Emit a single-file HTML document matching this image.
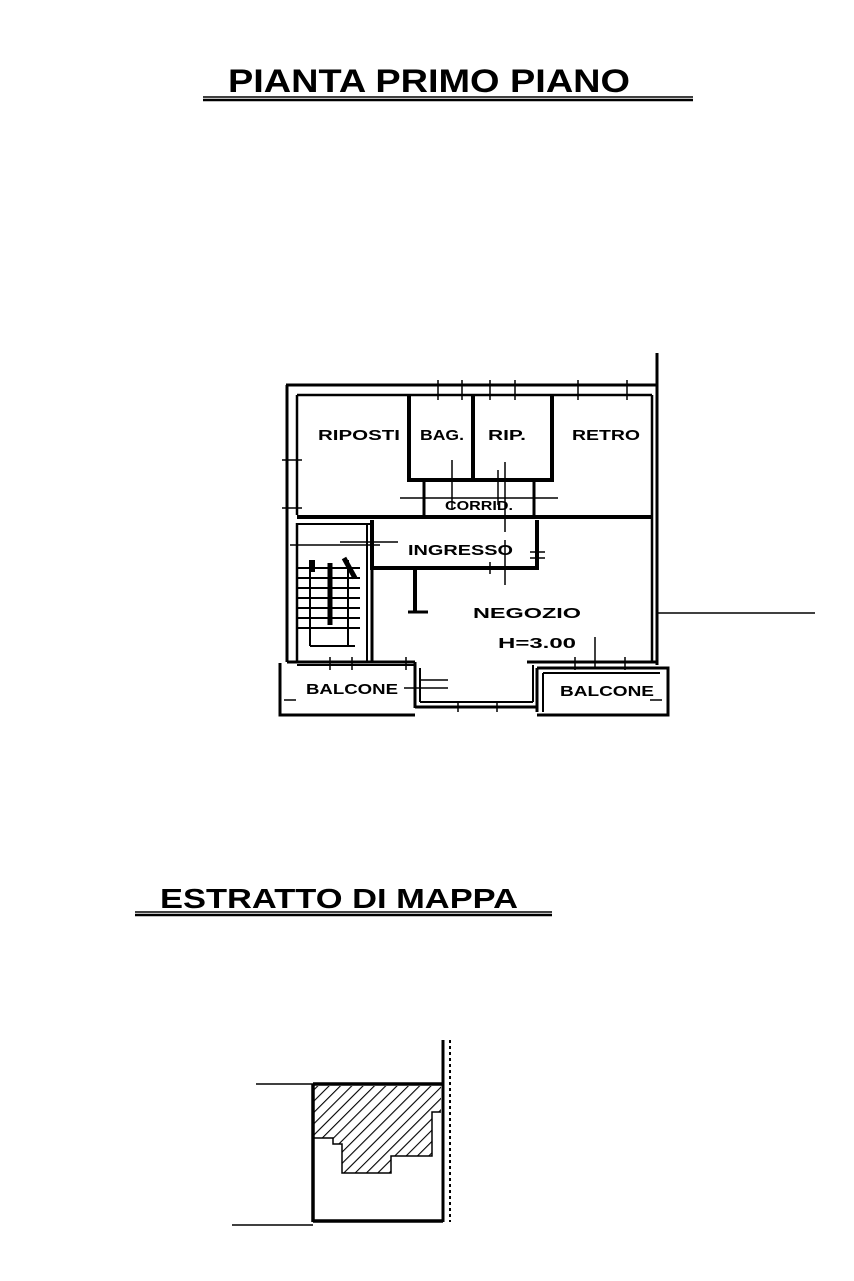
<!DOCTYPE html>
<html><head><meta charset="utf-8"><style>
html,body{margin:0;padding:0;background:#fff;}
svg{display:block;}
text{font-family:"Liberation Sans",sans-serif;font-weight:bold;fill:#000;}
</style></head><body>
<svg width="854" height="1281" viewBox="0 0 854 1281" xmlns="http://www.w3.org/2000/svg">
<defs>
<pattern id="h" patternUnits="userSpaceOnUse" width="8" height="8" patternTransform="rotate(45)">
<line x1="0" y1="0" x2="0" y2="8" stroke="#000" stroke-width="2.2"/>
</pattern>
</defs>
<text x="228" y="92" font-size="32" textLength="402" lengthAdjust="spacingAndGlyphs">PIANTA  PRIMO  PIANO</text>
<line x1="203" y1="97" x2="693" y2="97" stroke="#000" stroke-width="1.5"/>
<line x1="203" y1="100" x2="693" y2="100" stroke="#000" stroke-width="2.5"/>

<g stroke="#000" fill="none">
<line x1="286" y1="385" x2="657" y2="385" stroke-width="3"/>
<line x1="297" y1="395" x2="652" y2="395" stroke-width="2.5"/>
<line x1="657" y1="353" x2="657" y2="665" stroke-width="3"/>
<line x1="652" y1="395" x2="652" y2="662" stroke-width="2.5"/>
<line x1="287" y1="385" x2="287" y2="662" stroke-width="3"/>
<line x1="297" y1="395" x2="297" y2="515" stroke-width="2.5"/>
<line x1="297" y1="523" x2="297" y2="662" stroke-width="2.5"/>
<path d="M409 395 V480 H552 V395" stroke-width="4"/>
<line x1="473" y1="395" x2="473" y2="480" stroke-width="4"/>
<line x1="297" y1="517" x2="652" y2="517" stroke-width="4"/>
<line x1="424" y1="482" x2="424" y2="515" stroke-width="3"/>
<line x1="534" y1="482" x2="534" y2="515" stroke-width="3"/>
<path d="M372 520 V568 H537 V520" stroke-width="4"/>
<line x1="372" y1="520" x2="372" y2="662" stroke-width="3"/>
<line x1="415" y1="568" x2="415" y2="612" stroke-width="4"/>
<line x1="408" y1="612" x2="428" y2="612" stroke-width="3"/>
<line x1="297" y1="524" x2="370" y2="524" stroke-width="2"/>
<line x1="367" y1="524" x2="367" y2="662" stroke-width="2"/>
<g stroke-width="2">
<line x1="297" y1="568" x2="360" y2="568"/><line x1="297" y1="578" x2="360" y2="578"/>
<line x1="297" y1="588" x2="360" y2="588"/><line x1="297" y1="598" x2="360" y2="598"/>
<line x1="297" y1="608" x2="360" y2="608"/><line x1="297" y1="618" x2="360" y2="618"/>
<line x1="297" y1="628" x2="360" y2="628"/><line x1="310" y1="646" x2="355" y2="646"/>
<line x1="310" y1="560" x2="310" y2="646"/><line x1="348" y1="560" x2="348" y2="646"/>
</g>
<line x1="330" y1="563" x2="330" y2="625" stroke-width="5"/>
<line x1="312" y1="560" x2="312" y2="572" stroke-width="6"/>
<line x1="344" y1="558" x2="355" y2="578" stroke-width="5"/>
<line x1="287" y1="662" x2="415" y2="662" stroke-width="3"/>
<line x1="297" y1="665" x2="415" y2="665" stroke-width="2"/>
<line x1="527" y1="662" x2="657" y2="662" stroke-width="3"/>
<line x1="415" y1="662" x2="415" y2="708" stroke-width="3"/>
<line x1="420" y1="668" x2="420" y2="702" stroke-width="2"/>
<line x1="415" y1="707" x2="537" y2="707" stroke-width="3"/>
<line x1="420" y1="702" x2="533" y2="702" stroke-width="2"/>
<line x1="533" y1="665" x2="533" y2="702" stroke-width="2"/>
<line x1="537" y1="668" x2="537" y2="712" stroke-width="3"/>
<path d="M280 663 V715 H415" stroke-width="3"/>
<path d="M537 668 H668 V715 H537" stroke-width="3"/>
<line x1="543" y1="673" x2="660" y2="673" stroke-width="2"/>
<line x1="543" y1="673" x2="543" y2="712" stroke-width="2"/>
<line x1="657" y1="613" x2="815" y2="613" stroke-width="1.5"/>
<g stroke-width="1.5">
<line x1="438" y1="380" x2="438" y2="400"/><line x1="462" y1="380" x2="462" y2="400"/>
<line x1="490" y1="380" x2="490" y2="400"/><line x1="515" y1="380" x2="515" y2="400"/>
<line x1="578" y1="380" x2="578" y2="400"/><line x1="627" y1="380" x2="627" y2="400"/>
<line x1="282" y1="460" x2="302" y2="460"/><line x1="282" y1="508" x2="302" y2="508"/>
<line x1="452" y1="460" x2="452" y2="510"/><line x1="498" y1="470" x2="498" y2="505"/>
<line x1="400" y1="498" x2="558" y2="498"/>
<line x1="505" y1="462" x2="505" y2="532"/><line x1="505" y1="540" x2="505" y2="585"/>
<line x1="340" y1="542" x2="398" y2="542"/>
<line x1="290" y1="545" x2="380" y2="545"/>
<line x1="530" y1="552" x2="545" y2="552"/><line x1="530" y1="558" x2="545" y2="558"/>
<line x1="490" y1="562" x2="490" y2="574"/>
<line x1="595" y1="637" x2="595" y2="667"/>
<line x1="330" y1="657" x2="330" y2="670"/><line x1="352" y1="657" x2="352" y2="670"/>
<line x1="406" y1="657" x2="406" y2="670"/><line x1="575" y1="657" x2="575" y2="670"/>
<line x1="625" y1="657" x2="625" y2="670"/>
<line x1="404" y1="688" x2="448" y2="688"/><line x1="420" y1="680" x2="448" y2="680"/>
<line x1="458" y1="702" x2="458" y2="712"/><line x1="497" y1="702" x2="497" y2="712"/>
<line x1="284" y1="700" x2="296" y2="700"/><line x1="650" y1="700" x2="662" y2="700"/>
</g>
</g>
<g font-size="15">
<text x="318" y="440" textLength="82" lengthAdjust="spacingAndGlyphs">RIPOSTI</text>
<text x="420" y="440" textLength="44" lengthAdjust="spacingAndGlyphs">BAG.</text>
<text x="488" y="440" textLength="38" lengthAdjust="spacingAndGlyphs">RIP.</text>
<text x="572" y="440" textLength="68" lengthAdjust="spacingAndGlyphs">RETRO</text>
<text x="445" y="510" font-size="13" textLength="68" lengthAdjust="spacingAndGlyphs">CORRID.</text>
<text x="408" y="555" textLength="105" lengthAdjust="spacingAndGlyphs">INGRESSO</text>
<text x="473" y="618" textLength="108" lengthAdjust="spacingAndGlyphs">NEGOZIO</text>
<text x="498" y="648" textLength="78" lengthAdjust="spacingAndGlyphs">H=3.00</text>
<text x="306" y="694" textLength="92" lengthAdjust="spacingAndGlyphs">BALCONE</text>
<text x="560" y="696" textLength="94" lengthAdjust="spacingAndGlyphs">BALCONE</text>
</g>

<text x="160" y="908" font-size="28" textLength="358" lengthAdjust="spacingAndGlyphs">ESTRATTO  DI  MAPPA</text>
<line x1="135" y1="912" x2="552" y2="912" stroke="#000" stroke-width="1.5"/>
<line x1="135" y1="915" x2="552" y2="915" stroke="#000" stroke-width="2.5"/>

<polygon points="314,1086 441,1086 441,1112 432,1112 432,1156 391,1156 391,1173 342,1173 342,1144 333,1144 333,1138 314,1138" fill="url(#h)" stroke="none"/>
<g stroke="#000" fill="none">
<line x1="256" y1="1084" x2="313" y2="1084" stroke-width="1.5"/>
<line x1="313" y1="1084" x2="443" y2="1084" stroke-width="3.5"/>
<line x1="313" y1="1084" x2="313" y2="1222" stroke-width="3.5"/>
<line x1="313" y1="1221" x2="443" y2="1221" stroke-width="3.5"/>
<line x1="443" y1="1040" x2="443" y2="1222" stroke-width="3"/>
<line x1="450" y1="1040" x2="450" y2="1222" stroke-width="2" stroke-dasharray="3,3"/>
<line x1="232" y1="1225" x2="313" y2="1225" stroke-width="1.5"/>
<path d="M314 1138 H333 V1144 H342 V1173 H391 V1156 H432 V1112 H441" stroke-width="1.5"/>
</g>
</svg>
</body></html>
